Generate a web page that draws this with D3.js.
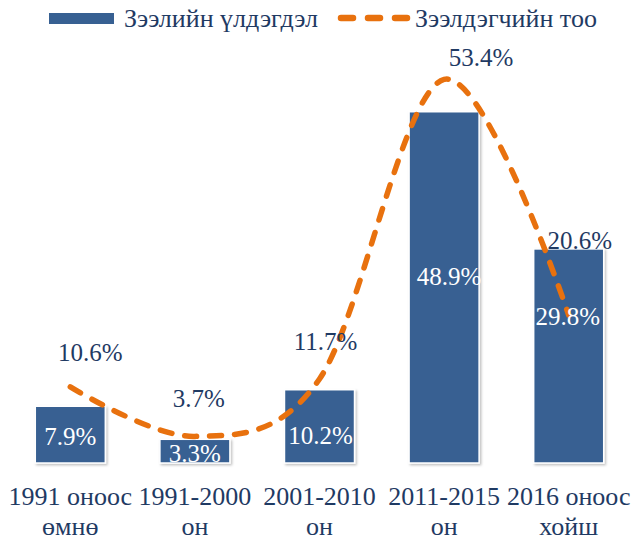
<!DOCTYPE html>
<html>
<head>
<meta charset="utf-8">
<script src="https://cdn.jsdelivr.net/npm/d3@7"></script>
<style>
  html, body { margin: 0; padding: 0; background: #fff; }
  svg { display: block; }
</style>
</head>
<body>
<svg id="chart" width="633" height="541"></svg>
<script>
// Categories: period of loan origination (two-line labels)
const categories = [
  ["1991 оноос", "өмнө"],
  ["1991-2000", "он"],
  ["2001-2010", "он"],
  ["2011-2015", "он"],
  ["2016 оноос", "хойш"]
];
// Share of outstanding loan balance, %
const balanceShare = [7.9, 3.3, 10.2, 48.9, 29.8];
// Share of borrowers, %
const borrowerShare = [10.6, 3.7, 11.7, 53.4, 20.6];

const seriesNames = ["Зээлийн үлдэгдэл", "Зээлдэгчийн тоо"];

const barColor = "#376092";
const lineColor = "#E8710E";
const textColor = "#1F3A63";
const font = "Liberation Serif";
const textSize = 26;
const valueSize = 25;

const svg = d3.select("#chart");

// drop shadow under the bars
const defs = svg.append("defs");
const shadow = defs.append("filter").attr("id", "barShadow")
  .attr("x", "-10%").attr("y", "-10%").attr("width", "130%").attr("height", "130%");
shadow.append("feDropShadow")
  .attr("dx", 1.5).attr("dy", 1.5).attr("stdDeviation", 1.2)
  .attr("flood-color", "#000").attr("flood-opacity", 0.25);

const idx = d3.range(categories.length);
const x = d3.scaleBand().domain(idx).range([8, 631]).padding(0);
const barW = x.bandwidth() * 0.562;
const cx = i => x(i) + x.bandwidth() / 2;

const y = d3.scaleLinear().domain([0, 60]).range([463, 32]);

// Bars
svg.append("g").selectAll("rect")
  .data(balanceShare)
  .join("rect")
  .attr("x", (d, i) => cx(i) - barW / 2)
  .attr("y", d => y(d))
  .attr("width", barW)
  .attr("height", d => y(0) - y(d))
  .attr("fill", barColor)
  .attr("stroke", "#fff")
  .attr("stroke-width", 1.5)
  .attr("filter", "url(#barShadow)");

// Smoothed dashed line
const line = d3.line()
  .x((d, i) => cx(i))
  .y(d => y(d))
  .curve(d3.curveCardinal.tension(0));

svg.append("path")
  .datum(borrowerShare)
  .attr("d", line)
  .attr("fill", "none")
  .attr("stroke", lineColor)
  .attr("stroke-width", 5.5)
  .attr("stroke-linecap", "round")
  .attr("stroke-dasharray", "12 13");

// Legend swatches
svg.append("rect")
  .attr("x", 49).attr("y", 13).attr("width", 65).attr("height", 11)
  .attr("fill", barColor);
svg.append("line")
  .attr("x1", 341).attr("x2", 408).attr("y1", 18).attr("y2", 18)
  .attr("stroke", lineColor).attr("stroke-width", 6.5)
  .attr("stroke-linecap", "round")
  .attr("stroke-dasharray", "12 15");

const fmt = v => v.toFixed(1) + "%";

// Category axis labels (two lines each)
categories.forEach((lines, i) => {
  const t = svg.append("text")
    .attr("x", cx(i)).attr("y", 505)
    .attr("text-anchor", "middle")
    .attr("font-family", font)
    .attr("font-size", textSize)
    .attr("fill", textColor);
  lines.forEach((s, j) => {
    t.append("tspan").attr("x", cx(i)).attr("dy", j === 0 ? 0 : 30).text(s);
  });
});

// Bar value labels (centred in the bar, with small nudges)
const barLabelNudge = [[0, 2], [0, 2], [1, 9], [5, -11], [-1, -39]];
balanceShare.forEach((v, i) => {
  svg.append("text")
    .attr("x", cx(i) + barLabelNudge[i][0])
    .attr("y", (y(v) + y(0)) / 2 + barLabelNudge[i][1] + 8.5)
    .attr("text-anchor", "middle")
    .attr("font-family", font)
    .attr("font-size", valueSize)
    .attr("fill", "#fff")
    .text(fmt(v));
});

// Line value labels (placed above each point)
const lineLabelNudge = [[20, -34], [4, -38], [6, -37], [37, -22], [11, -75]];
borrowerShare.forEach((v, i) => {
  svg.append("text")
    .attr("x", cx(i) + lineLabelNudge[i][0])
    .attr("y", y(v) + lineLabelNudge[i][1] + 8.5)
    .attr("text-anchor", "middle")
    .attr("font-family", font)
    .attr("font-size", valueSize)
    .attr("fill", textColor)
    .text(fmt(v));
});

// Legend labels
[[124, seriesNames[0]], [415, seriesNames[1]]].forEach(([lx, name]) => {
  svg.append("text")
    .attr("x", lx).attr("y", 27)
    .attr("font-family", font)
    .attr("font-size", textSize)
    .attr("fill", textColor)
    .text(name);
});
</script>
</body>
</html>
